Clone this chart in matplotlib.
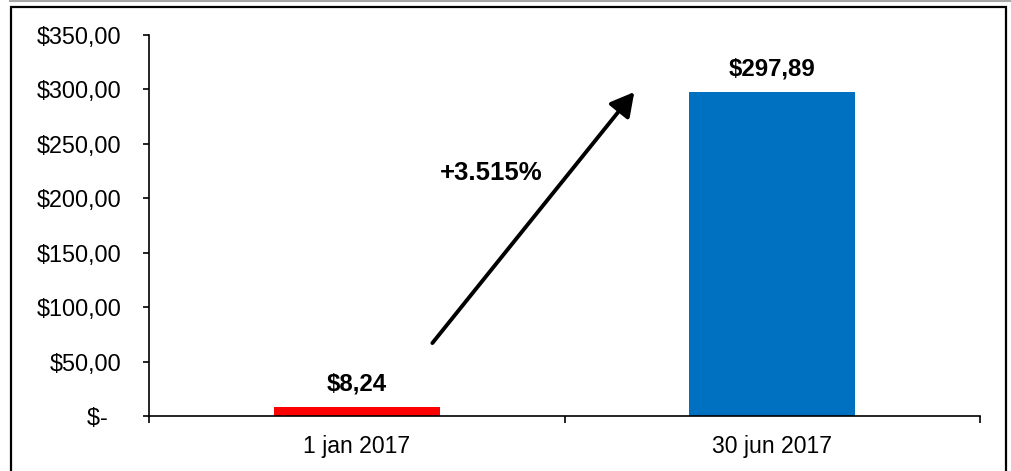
import matplotlib
matplotlib.use('Agg')
import matplotlib.pyplot as plt
from matplotlib.patches import Rectangle
from matplotlib.lines import Line2D
from matplotlib.ticker import FuncFormatter

plt.rcParams['font.family'] = ['Liberation Sans', 'DejaVu Sans']

# Price on two dates
dates = ['1 jan 2017', '30 jun 2017']
prices = [8.24, 297.89]
bar_colors = ['#ff0000', '#0070c0']
growth_label = '+3.515%'
y_ticks = [0, 50, 100, 150, 200, 250, 300, 350]


def money(v, pos=None):
    if v == 0:
        return '$-  '
    s = f'{v:,.2f}'.replace(',', 'X').replace('.', ',').replace('X', '.')
    return '$' + s


W, H = 1011, 471
fig = plt.figure(figsize=(W / 100, H / 100), dpi=100)
ax = fig.add_axes([149 / W, (H - 416) / H, (980 - 149) / W, (416 - 35) / H])

x = list(range(len(dates)))
ax.bar(x, prices, width=0.40, color=bar_colors, zorder=2)

for xi, v in zip(x, prices):
    ax.annotate(money(v), (xi, v), xytext=(0, 16.5), textcoords='offset points',
                ha='center', va='center', fontsize=17.3, fontweight='bold')

# growth arrow between the two bars
ax.annotate('', xy=(0.668, 297.6), xytext=(0.182, 67),
            arrowprops=dict(arrowstyle='-|>,head_length=0.55,head_width=0.3',
                            lw=2.8, color='black',
                            mutation_scale=26, shrinkA=0, shrinkB=0))
ax.text(0.324, 223, growth_label, ha='center', va='center',
        fontsize=18.5, fontweight='bold')

ax.set_xlim(-0.5, len(dates) - 0.5)
ax.set_ylim(0, 350)
ax.set_yticks(y_ticks)
ax.yaxis.set_major_formatter(FuncFormatter(money))

# category boundaries carry the tick marks, labels sit in the middle
ax.set_xticks([-0.5, 0.5, 1.5])
ax.set_xticklabels(['', '', ''])
ax.set_xticks(x, minor=True)
ax.set_xticklabels(dates, minor=True)
ax.tick_params(axis='x', which='major', direction='out', length=5, width=1.2, color='black')
ax.tick_params(axis='x', which='minor', length=0, pad=14, labelsize=16.6)
ax.tick_params(axis='y', direction='out', length=4.5, width=1.2, pad=15.5, labelsize=16.8)

for side in ['top', 'right']:
    ax.spines[side].set_visible(False)
for side in ['left', 'bottom']:
    ax.spines[side].set_linewidth(1.2)
    ax.spines[side].set_color('black')

# outer frame around the chart area
fig.patches.append(Rectangle((11 / W, -0.05), (1006 - 11) / W, (H - 7) / H + 0.05,
                             transform=fig.transFigure, fill=False,
                             edgecolor='black', linewidth=1.6, clip_on=False))
fig.lines.append(Line2D([10 / W, 1], [(H - 1) / H, (H - 1) / H],
                        transform=fig.transFigure, color='#a6a6a6', linewidth=1.5))

fig.savefig('out.png', dpi=100)
